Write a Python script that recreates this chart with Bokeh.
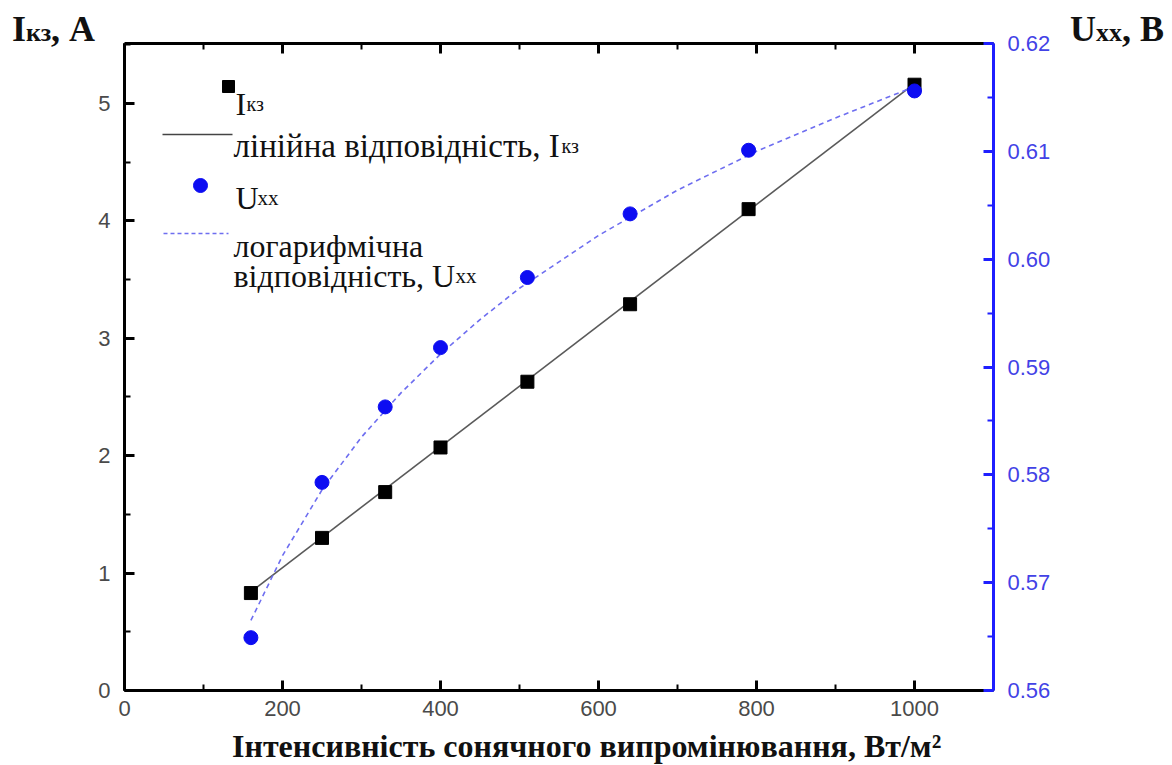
from bokeh.plotting import figure
from bokeh.layouts import column
from bokeh.models import (Range1d, LinearAxis, SingleIntervalTicker, Label,
                          PrintfTickFormatter, CustomJSTickFormatter, Div)
from bokeh.embed import file_html
from bokeh.resources import INLINE

# ---------------- data ----------------
intensity = [160, 250, 330, 400, 510, 640, 790, 1000]
i_sc = [0.83, 1.30, 1.69, 2.07, 2.63, 3.29, 4.10, 5.16]
u_oc = [0.5649, 0.5793, 0.5863, 0.5918, 0.5983, 0.6042, 0.6101, 0.6156]

lin_x = [160, 1000]
lin_i = [0.84, 5.17]

log_x = [160, 200, 250, 300, 350, 400, 450, 500, 600, 700, 800, 900, 1000]
log_u = [0.5665, 0.5725, 0.5786, 0.5835, 0.5876, 0.5912, 0.5944, 0.5973,
         0.6022, 0.6064, 0.6100, 0.6131, 0.6160]

x_title = "Інтенсивність сонячного випромінювання, Вт/м²"
yl_main, yl_sub, yl_unit = "I", "кз", ", A"
yr_main, yr_sub, yr_unit = "U", "xx", ", B"

# ---------------- layout ----------------
W = 1172
TOP_H = 30           # html strip with the two axis titles
BOT_H = 37           # html strip with the x axis title
FRAME_L = 124
FRAME_W, FRAME_H = 869, 647
BT, BB = 13, 38
FRAME_T = TOP_H + BT
BL, BR = FRAME_L, W - FRAME_L - FRAME_W
PH = BT + FRAME_H + BB
X_MAX = 1100
Y_MAX = 5.511
U_MIN, U_MAX = 0.56, 0.62


def dx(px):
    return (px - FRAME_L) / FRAME_W * X_MAX


def dy(py):
    return (FRAME_T + FRAME_H - py) / FRAME_H * Y_MAX


p = figure(width=W, height=PH, output_backend="svg", toolbar_location=None,
           x_range=Range1d(0, X_MAX), y_range=Range1d(0, Y_MAX),
           min_border_left=BL, min_border_top=BT, min_border_right=BR,
           min_border_bottom=BB)
p.extra_y_ranges = {"u": Range1d(U_MIN, U_MAX)}
p.xgrid.visible = False
p.ygrid.visible = False
p.outline_line_color = None
p.background_fill_color = "white"
p.border_fill_color = None

GRAY = "#4a4a4a"
BLUE_AX = "#1f1fff"
BLUE_TXT = "#4242e6"


def style_axis(ax, color, label_color):
    ax.axis_line_color = color
    ax.axis_line_width = 3
    ax.major_tick_line_color = color
    ax.minor_tick_line_color = color
    ax.major_tick_line_width = 3
    ax.minor_tick_line_width = 2
    ax.major_tick_in = 10
    ax.major_tick_out = 0
    ax.minor_tick_in = 6
    ax.minor_tick_out = 0
    ax.major_label_text_font = "Liberation Sans"
    ax.major_label_text_font_size = "22px"
    ax.major_label_text_color = label_color
    ax.axis_label = None


xb = p.xaxis[0]
xb.ticker = SingleIntervalTicker(interval=200, num_minor_ticks=2)
style_axis(xb, "black", GRAY)
xb.major_label_standoff = 10

yl = p.yaxis[0]
yl.ticker = SingleIntervalTicker(interval=1, num_minor_ticks=2)
style_axis(yl, "black", GRAY)
yl.major_label_standoff = 14

top = LinearAxis(ticker=SingleIntervalTicker(interval=200, num_minor_ticks=2),
                 formatter=CustomJSTickFormatter(code="return ''"))
style_axis(top, "black", GRAY)
top.major_label_text_font_size = "0px"
top.major_label_standoff = 0
p.add_layout(top, "above")

ur = LinearAxis(y_range_name="u",
                ticker=SingleIntervalTicker(interval=0.01, num_minor_ticks=2),
                formatter=PrintfTickFormatter(format="%.2f"))
style_axis(ur, BLUE_AX, BLUE_TXT)
ur.major_label_standoff = 14
p.add_layout(ur, "right")

# ---------------- data marks ----------------
p.line(lin_x, lin_i, line_color="#5a5a5a", line_width=1.6)
p.line(log_x, log_u, y_range_name="u", line_color="#6e6ef0", line_width=1.6,
       line_dash="5 4")
p.scatter(intensity, i_sc, marker="square", size=13, fill_color="black",
          line_color="black")
p.scatter(intensity, u_oc, y_range_name="u", marker="circle", size=14,
          fill_color="#0d0df2", line_color="#0d0df2")

# ---------------- legend (drawn by hand for the subscripts) ----------------
SERIF = "Liberation Serif"
p.scatter([dx(228)], [dy(86)], marker="square", size=12, fill_color="black",
          line_color="black")
p.line([dx(162), dx(232)], [dy(134), dy(134)], line_color="#444444",
       line_width=1.6)
p.scatter([dx(200)], [dy(185)], marker="circle", size=14,
          fill_color="#0d0df2", line_color="#0d0df2")
p.line([dx(163), dx(228)], [dy(233), dy(233)], line_color="#6e6ef0",
       line_width=1.6, line_dash="4 3")


def lab(text, px, py, size, bold=False, color="#111111"):
    p.add_layout(Label(x=dx(px), y=dy(py), text=text, text_font=SERIF,
                       text_font_size=f"{size}px",
                       text_font_style="bold" if bold else "normal",
                       text_color=color, text_baseline="alphabetic",
                       text_align="left"))


lab("I", 235, 103, 32)
lab("кз", 246, 103, 20)
lab("лінійна відповідність, I", 233, 145, 33)
lab("кз", 561, 145, 20)
lab("U", 235, 197, 32)
lab("xx", 257, 197, 21)
lab("логарифмічна", 233, 245, 32)
lab("відповідність, U", 233, 275, 32)
lab("xx", 455, 275, 21)

# ---------------- axis titles (html strips above and below) ----------------
span = ("position:absolute;white-space:nowrap;line-height:normal;"
        "font-family:Liberation Serif, serif;font-weight:bold;color:#111111;")
top_html = (
    f'<div style="position:relative;width:{W}px;height:{TOP_H}px;margin:0;'
    'overflow:visible;">'
    f'<span style="{span}left:12px;top:8px;font-size:36px;">'
    f'{yl_main}<span style="font-size:26px;">{yl_sub}</span>{yl_unit}</span>'
    f'<span style="{span}left:1070px;top:8px;font-size:36px;">'
    f'{yr_main}<span style="font-size:26px;">{yr_sub}</span>{yr_unit}</span>'
    '</div>')
bot_html = (
    f'<div style="position:relative;width:{W}px;height:{BOT_H}px;margin:0;">'
    f'<span style="{span}left:232px;top:0px;font-size:32px;">{x_title}</span>'
    '</div>')

top_div = Div(text=top_html, width=W, height=TOP_H, margin=0,
              styles={"overflow": "visible", "z-index": "5"})
bot_div = Div(text=bot_html, width=W, height=BOT_H, margin=0)

layout = column(top_div, p, bot_div, spacing=0)

open("out.html", "w").write(file_html(layout, INLINE))
